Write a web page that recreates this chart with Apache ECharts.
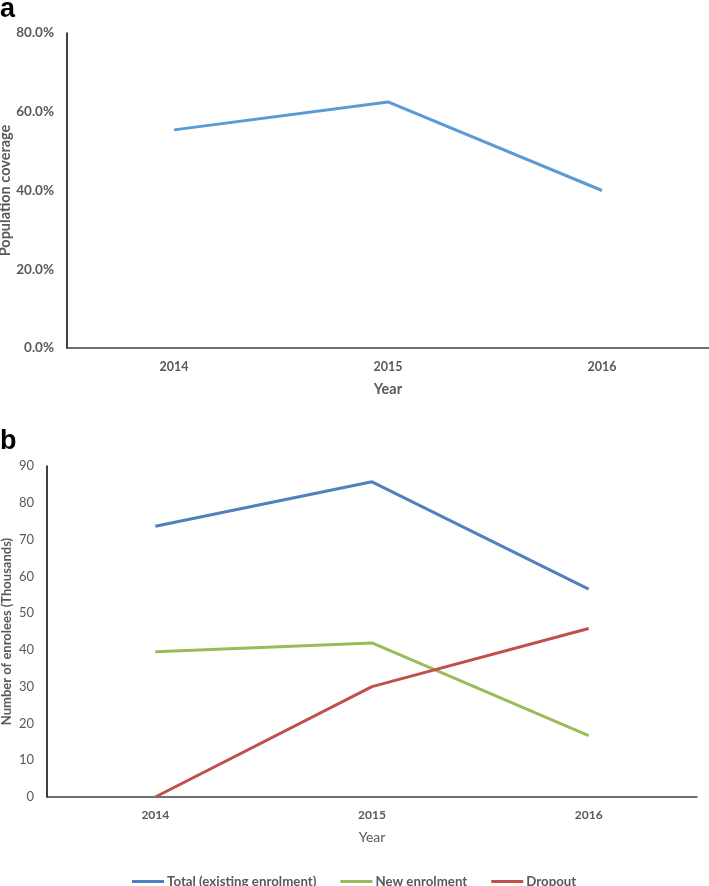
<!DOCTYPE html>
<html>
<head>
<meta charset="utf-8">
<script src="https://cdn.jsdelivr.net/npm/echarts@6/dist/echarts.min.js"></script>
<style>
html,body{margin:0;padding:0;background:#fff;}
#c{width:709px;height:886px;}
</style>
</head>
<body>
<div id="c"></div>
<script>
const years = ['2014', '2015', '2016'];
const coverage = [55.4, 62.5, 40.0];
const totalEnrolment = [73.6, 85.7, 56.5];
const newEnrolment = [39.5, 41.9, 16.7];
const dropout = [0, 30.0, 45.8];

const FONT = 'Lato';
const GREY = '#595959';
const chart = echarts.init(document.getElementById('c'), null, {renderer: 'canvas'});
chart.setOption({
  animation: false,
  backgroundColor: '#fff',
  textStyle: {fontFamily: FONT},
  graphic: [
    {type: 'text', left: 0, top: -4, style: {text: 'a', font: 'bold 27px "Liberation Sans"', fill: '#000'}},
    {type: 'text', left: 0, top: 428, style: {text: 'b', font: 'bold 27px "Liberation Sans"', fill: '#000'}}
  ],
  grid: [
    {left: 67, top: 33, width: 642, height: 315, outerBoundsMode: 'none', containLabel: false},
    {left: 47, top: 466, width: 650, height: 331, outerBoundsMode: 'none', containLabel: false}
  ],
  xAxis: [
    {
      type: 'category', gridIndex: 0, data: years,
      axisLine: {lineStyle: {color: '#404040', width: 1.5}},
      axisTick: {show: false},
      axisLabel: {color: GREY, fontWeight: 'bold', fontSize: 12.5, margin: 12, fontFamily: FONT},
      name: 'Year', nameLocation: 'middle', nameGap: 34,
      nameTextStyle: {color: GREY, fontWeight: 'bold', fontSize: 14.5, fontFamily: FONT}
    },
    {
      type: 'category', gridIndex: 1, data: years,
      axisLine: {lineStyle: {color: '#404040', width: 1.5}},
      axisTick: {show: false},
      axisLabel: {color: GREY, fontWeight: 'bold', fontSize: 12, margin: 12, fontFamily: FONT},
      name: 'Year', nameLocation: 'middle', nameGap: 33,
      nameTextStyle: {color: GREY, fontSize: 14, fontFamily: FONT}
    }
  ],
  yAxis: [
    {
      type: 'value', gridIndex: 0, min: 0, max: 80, interval: 20,
      axisLine: {show: true, lineStyle: {color: '#000', width: 1.5}},
      axisTick: {show: false},
      splitLine: {show: false},
      axisLabel: {color: GREY, fontWeight: 'bold', fontSize: 13.5, margin: 13, fontFamily: FONT,
        formatter: v => v.toFixed(1) + '%'},
      name: 'Population coverage', nameLocation: 'middle', nameGap: 54, nameMoveOverlap: false,
      nameTextStyle: {color: GREY, fontWeight: 'bold', fontSize: 14.5, fontFamily: FONT}
    },
    {
      type: 'value', gridIndex: 1, min: 0, max: 90, interval: 10,
      axisLine: {show: true, lineStyle: {color: '#000', width: 1.5}},
      axisTick: {show: false},
      splitLine: {show: false},
      axisLabel: {color: GREY, fontSize: 13, margin: 13, fontFamily: FONT},
      name: 'Number of enrolees (Thousands)', nameLocation: 'middle', nameGap: 34, nameMoveOverlap: false,
      nameTextStyle: {color: GREY, fontWeight: 'bold', fontSize: 13, fontFamily: FONT}
    }
  ],
  legend: {
    data: ['Total (existing enrolment)', 'New enrolment', 'Dropout'],
    left: 127, top: 870,
    icon: 'rect', itemWidth: 32, itemHeight: 3, itemGap: 24,
    textStyle: {color: GREY, fontWeight: 'bold', fontSize: 13.3, fontFamily: FONT, padding: [0, 0, 0, -2]}
  },
  series: [
    {type: 'line', name: 'Coverage', xAxisIndex: 0, yAxisIndex: 0, data: coverage,
      showSymbol: false, symbol: 'none', lineStyle: {color: '#5B9BD5', width: 3}, itemStyle: {color: '#5B9BD5'}},
    {type: 'line', name: 'Total (existing enrolment)', xAxisIndex: 1, yAxisIndex: 1, data: totalEnrolment,
      showSymbol: false, symbol: 'none', lineStyle: {color: '#4F81BD', width: 3}, itemStyle: {color: '#4F81BD'}},
    {type: 'line', name: 'New enrolment', xAxisIndex: 1, yAxisIndex: 1, data: newEnrolment,
      showSymbol: false, symbol: 'none', lineStyle: {color: '#9BBB59', width: 3}, itemStyle: {color: '#9BBB59'}},
    {type: 'line', name: 'Dropout', xAxisIndex: 1, yAxisIndex: 1, data: dropout,
      showSymbol: false, symbol: 'none', lineStyle: {color: '#C0504D', width: 3}, itemStyle: {color: '#C0504D'}}
  ]
});
</script>
</body>
</html>
